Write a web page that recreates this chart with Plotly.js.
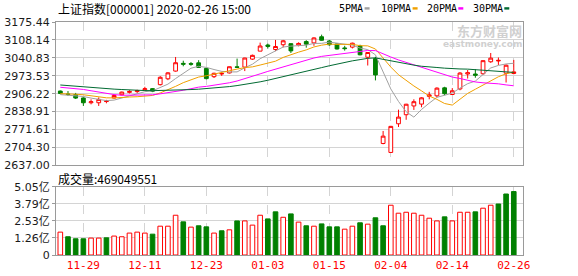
<!DOCTYPE html>
<html><head><meta charset="utf-8">
<script src="https://cdn.plot.ly/plotly-3.0.1.min.js"></script>
<style>html,body{margin:0;padding:0;background:#fff}#chart{width:578px;height:276px}</style>
</head><body><div id="chart"></div>
<script>
const dates = ['11-26','11-27','11-28','11-29',
 '12-02','12-03','12-04','12-05','12-06','12-09','12-10','12-11','12-12','12-13','12-16','12-17','12-18','12-19','12-20','12-23','12-24','12-25','12-26','12-27','12-30','12-31',
 '01-02','01-03','01-06','01-07','01-08','01-09','01-10','01-13','01-14','01-15','01-16','01-17','01-20','01-21','01-22','01-23',
 '02-03','02-04','02-05','02-06','02-07','02-10','02-11','02-12','02-13','02-14','02-17','02-18','02-19','02-20','02-21','02-24','02-25','02-26'];
const opens  = [2916,2905,2903,2890,2872,2872,2876.5,2890,2902,2911,2914,2921,2925,2940,2962,2991,3020,3019,3022,3001,2970,2980,2984,3007,3006,3036,
 3066,3089,3072,3090,3094,3089,3102,3097,3120,3104,3093,3078,3081,3085,3043,3038,
 2719,2685.3,2793,2827,2860,2867,2896,2898,2928,2903,2924,2980,2980,2981,3026,3029,2983,2982];
const highs  = [2918,2916,2909,2892,2885,2892,2883,2903,2914,2919,2921,2932,2927,2972,2987,3044,3030,3025,3032,3004,2985,2989,3008,3038,3041,3053,
 3098,3094,3108,3108,3095,3099,3107,3118,3128,3108,3095,3086,3098,3090,3062,3045,
 2766,2785,2846,2868,2885,2893,2913,2930,2932,2927,2987,2995,2998,3031,3059,3042,3016,3033];
const lows   = [2904,2898,2886,2860,2866,2860,2870,2888,2900,2907,2908,2917,2912,2937,2957,2989,3009,3011,3003,2960,2965,2973,2982,3003,2991,3033,
 3066,3076,3066,3080,3059,3084,3079,3086,3105,3086,3072,3068,3076,3050,3012,2956,
 2716,2685,2781,2808,2845,2855,2885,2893,2900,2901,2919,2963,2966,2977,3022,3014,2948,2979];
const closes = [2907.06,2903.19,2889.69,2871.98,2875.81,2884.70,2878.12,2899.47,2912.01,2914.48,2917.32,2924.42,2915.70,2967.68,2984.39,3022.42,3017.04,3017.07,3004.94,2962.75,2982.68,2981.88,3007.35,3005.04,3040.02,3050.12,
 3085.20,3083.79,3083.41,3104.80,3066.89,3094.88,3092.29,3115.57,3106.82,3090.04,3074.08,3075.50,3095.79,3052.14,3060.75,2976.53,
 2746.61,2783.29,2818.09,2866.51,2875.96,2890.49,2901.67,2926.90,2906.07,2917.01,2983.62,2984.97,2975.40,3030.15,3039.67,3031.23,3013.05,2987.93];
// volume, in 亿 (1e8) shares
const volumes = [1.69,1.35,1.20,1.20,1.25,1.25,1.27,1.40,1.35,1.62,1.69,1.62,1.54,2.13,2.13,2.94,2.45,2.06,2.16,2.08,1.62,1.79,1.86,2.52,2.52,2.21,
 2.94,2.67,3.19,2.79,3.04,2.43,2.16,2.13,2.30,2.08,2.08,1.91,2.13,2.38,2.28,2.75,
 2.16,3.68,3.09,3.16,3.09,2.94,2.72,2.52,2.82,2.52,3.16,3.16,3.19,3.46,3.68,3.77,4.51,4.69];
// closes of the 29 sessions before the first one shown (needed for the moving averages)
const priorCloses = [2978.71,2977.33,2938.14,2939.62,2954.38,2941.62,2940.92,2954.93,2980.05,2954.18,2939.32,2929.06,2958.20,2975.49,2991.56,2978.60,2978.71,2964.18,2909.97,2914.82,2905.24,2909.87,2891.34,2909.20,2933.99,2911.05,2903.64,2885.29,2906.17];
const priceTicks = [2637.00,2704.30,2771.61,2838.91,2906.22,2973.53,3040.83,3108.14,3175.44];
const volTicks = [0,1.26,2.53,3.79,5.05];
const xTicks = ['11-29','12-11','12-23','01-03','01-15','02-04','02-14','02-26'];
const maPeriods = [5,10,20,30];
const maNames = ['5PMA','10PMA','20PMA','30PMA'];
const titleText = '上证指数[000001] 2020-02-26 15:00';
const volLabel = '成交量:469049551';

const maColors = ['#a0a0a0','#f0a000','#ff00ff','#006a32'];
const UP = '#ff0000', DOWN = '#008000';
const allCloses = priorCloses.concat(closes);
const off = priorCloses.length;
const traces = [];
traces.push({type:'candlestick', x:dates, open:opens, high:highs, low:lows, close:closes,
  xaxis:'x', yaxis:'y', whiskerwidth:0, hoverinfo:'skip', showlegend:false,
  increasing:{line:{color:UP,width:1}, fillcolor:'#ffffff'},
  decreasing:{line:{color:DOWN,width:1}, fillcolor:DOWN}});
maPeriods.forEach((p,k)=>{
  const ys = closes.map((c,i)=>{
    const seg = allCloses.slice(off+i-p+1, off+i+1);
    return seg.reduce((a,b)=>a+b,0)/seg.length;
  });
  traces.push({type:'scatter', mode:'lines', x:dates, y:ys, name:maNames[k], xaxis:'x', yaxis:'y',
    line:{color:maColors[k], width:1}, hoverinfo:'skip', showlegend:false});
});
const volUp = closes.map((c,i)=> c >= allCloses[off+i-1]);
traces.push({type:'bar', x:dates, y:volumes, xaxis:'x2', yaxis:'y2', width:0.6, showlegend:false, hoverinfo:'skip',
  marker:{color: volUp.map(u=>u?'#ffffff':DOWN), line:{color: volUp.map(u=>u?UP:DOWN), width:1}}});

const L = 56, R = 55, T = 22, B = 21, H = 276, W = 578;
const ph = H - T - B, pw = W - L - R;
const py = y => (H - B - y) / ph;
const pxx = x => (x - L) / pw;
const numFont = {family:'DejaVu Sans', size:11, color:'#1a1a1a'};
const gridC = '#d4d4d4', borderC = '#9a9a9a';

// legend: label then small colour mark, laid out left to right
const legendStartX = [338, 380, 425.7, 471.7];
const legendAnn = maNames.map((n,k)=>({text:n, xref:'paper', yref:'paper', x:pxx(legendStartX[k]), y:py(8.5),
  xanchor:'left', yanchor:'middle', showarrow:false, borderpad:0,
  font:{family:'DejaVu Sans Mono', size:10, color:'#000'}}));
const legendShapes = maNames.map((n,k)=>{
  const x0 = legendStartX[k] + n.length*6.02 + 2.5;
  return {type:'rect', xref:'paper', yref:'paper', x0:pxx(x0), x1:pxx(x0+5), y0:py(9.6), y1:py(7.2),
    fillcolor:maColors[k], line:{width:0}};
});

const layout = {
  width:W, height:H, margin:{l:L, r:R, t:T, b:B}, paper_bgcolor:'#fff', plot_bgcolor:'#fff',
  showlegend:false, bargap:0,
  xaxis:{type:'category', domain:[0,1], anchor:'y', range:[-0.56, 60.2], tickvals:xTicks, showticklabels:false,
    showgrid:true, gridcolor:gridC, griddash:'dash', gridwidth:1, ticks:'',
    showline:true, linecolor:borderC, linewidth:1, mirror:true, rangeslider:{visible:false}, fixedrange:true},
  yaxis:{domain:[py(165.3), 1], range:[priceTicks[0], priceTicks[priceTicks.length-1]], tickvals:priceTicks,
    ticktext:priceTicks.map(v=>v.toFixed(2)), tickfont:numFont, showgrid:true, gridcolor:gridC, gridwidth:1,
    zeroline:false, ticks:'outside', ticklen:3, tickcolor:borderC, ticklabelstandoff:0,
    showline:true, linecolor:borderC, linewidth:1, mirror:true, fixedrange:true},
  xaxis2:{type:'category', matches:'x', anchor:'y2', domain:[0,1], range:[-0.56, 60.2], tickvals:xTicks, ticktext:xTicks,
    tickfont:{family:'DejaVu Sans Mono', size:11, color:'#ff0000'},
    showgrid:true, gridcolor:gridC, griddash:'dash', gridwidth:1, ticks:'',
    showline:true, linecolor:borderC, linewidth:1, mirror:true, fixedrange:true},
  yaxis2:{domain:[0, py(186.7)], range:[0, volTicks[volTicks.length-1]], tickvals:volTicks,
    ticktext:volTicks.map(v=> v===0 ? '0' : v.toFixed(2)+'亿'), tickfont:{family:'DejaVu Sans, Noto Sans CJK SC', size:11, color:'#1a1a1a'},
    showgrid:true, gridcolor:gridC, gridwidth:1, zeroline:false, ticks:'outside', ticklen:3, tickcolor:borderC, ticklabelstandoff:0,
    showline:true, linecolor:borderC, linewidth:1, mirror:true, fixedrange:true},
  shapes: legendShapes,
  annotations:[
    {text:titleText, xref:'paper', yref:'paper', x:0, y:py(8.5), xanchor:'left', yanchor:'middle', showarrow:false,
     font:{family:'Noto Sans CJK SC', size:12, color:'#000'}},
    {text:volLabel, xref:'paper', yref:'paper', x:0, y:py(178), xanchor:'left', yanchor:'middle', showarrow:false,
     font:{family:'Noto Sans CJK SC', size:12, color:'#000'}},
    {text:'<b>东方财富网</b>', xref:'paper', yref:'paper', x:pxx(523), y:py(30), xanchor:'right', yanchor:'middle', showarrow:false, borderpad:0,
     font:{family:'Noto Sans CJK SC', size:13, color:'#d0d0d0'}},
    {text:'<b>eastmoney.com</b>', xref:'paper', yref:'paper', x:pxx(523), y:py(44.5), xanchor:'right', yanchor:'middle', showarrow:false, borderpad:0,
     font:{family:'DejaVu Sans', size:9, color:'#d0d0d0'}}
  ].concat(legendAnn)
};
Plotly.newPlot('chart', traces, layout, {staticPlot:true, displayModeBar:false});
</script></body></html>
